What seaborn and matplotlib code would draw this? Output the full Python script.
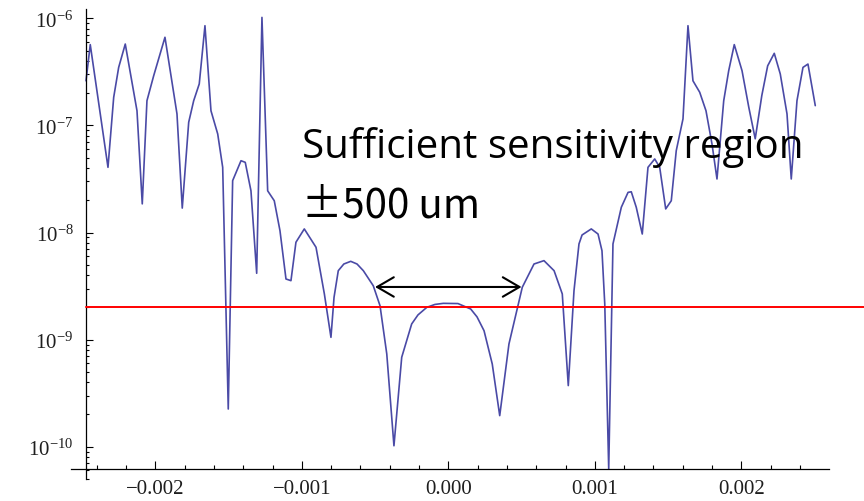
import numpy as np
import pandas as pd
import matplotlib
matplotlib.use("Agg")
import matplotlib.pyplot as plt
import seaborn as sns
from matplotlib.ticker import FixedLocator, LogLocator, NullFormatter, MultipleLocator, LogFormatterSciNotation

# ---------------- data ----------------
position_mm = [-2.473, -2.444, -2.323, -2.284, -2.250, -2.205, -2.125, -2.089, -2.057, -2.011,
               -1.934, -1.852, -1.816, -1.772, -1.738, -1.700, -1.661, -1.620, -1.574, -1.540,
               -1.502, -1.472, -1.415, -1.386, -1.347, -1.308, -1.272, -1.233, -1.188, -1.149,
               -1.108, -1.074, -1.040, -0.983, -0.903, -0.846, -0.801, -0.780, -0.751, -0.713,
               -0.666, -0.623, -0.580, -0.512, -0.466, -0.420, -0.371, -0.318, -0.250, -0.207,
               -0.147, -0.091, -0.034, 0.066, 0.153, 0.196, 0.244, 0.300, 0.351, 0.414,
               0.505, 0.585, 0.653, 0.722, 0.778, 0.819, 0.858, 0.892, 0.913, 0.976,
               1.022, 1.049, 1.068, 1.095, 1.124, 1.181, 1.227, 1.249, 1.283, 1.324,
               1.363, 1.409, 1.443, 1.484, 1.522, 1.556, 1.602, 1.636, 1.670, 1.716,
               1.759, 1.800, 1.834, 1.880, 1.914, 1.952, 2.005, 2.051, 2.095, 2.140,
               2.180, 2.225, 2.266, 2.312, 2.341, 2.380, 2.421, 2.455, 2.505]

sensitivity = [2.61e-7, 5.68e-7, 4.06e-8, 1.83e-7, 3.48e-7, 5.75e-7, 1.37e-7, 1.85e-8, 1.70e-7, 2.91e-7,
               6.65e-7, 1.28e-7, 1.69e-8, 1.07e-7, 1.70e-7, 2.44e-7, 8.53e-7, 1.37e-7, 8.32e-8, 4.06e-8,
               2.25e-10, 3.05e-8, 4.68e-8, 4.52e-8, 2.45e-8, 4.16e-9, 1.02e-6, 2.45e-8, 1.98e-8, 1.04e-8,
               3.68e-9, 3.55e-9, 8.11e-9, 1.08e-8, 7.28e-9, 2.67e-9, 1.05e-9, 2.48e-9, 4.40e-9, 5.08e-9,
               5.38e-9, 5.08e-9, 4.40e-9, 3.18e-9, 2.07e-9, 7.35e-10, 1.02e-10, 6.84e-10, 1.40e-9, 1.70e-9,
               2.00e-9, 2.13e-9, 2.18e-9, 2.17e-9, 1.93e-9, 1.63e-9, 1.21e-9, 5.92e-10, 1.95e-10, 9.10e-10,
               3.08e-9, 5.08e-9, 5.46e-9, 4.40e-9, 2.67e-9, 3.72e-10, 2.86e-9, 7.82e-9, 9.48e-9, 1.08e-8,
               9.68e-9, 6.76e-9, 2.15e-9, 6.2e-11, 7.82e-9, 1.72e-8, 2.37e-8, 2.40e-8, 1.72e-8, 9.68e-9,
               4.06e-8, 4.86e-8, 4.06e-8, 1.66e-8, 1.98e-8, 5.81e-8, 1.15e-7, 8.53e-7, 2.61e-7, 2.04e-7,
               1.37e-7, 6.70e-8, 3.16e-8, 1.70e-7, 3.24e-7, 5.68e-7, 3.24e-7, 1.48e-7, 7.5e-8, 1.9e-7,
               3.6e-7, 4.71e-7, 3.02e-7, 1.28e-7, 3.16e-8, 1.70e-7, 3.48e-7, 3.74e-7, 1.53e-7]

threshold = 2.0e-9
region_half_width = 0.0005
arrow_level = 3.1e-9

x_tick_values = [-0.002, -0.001, 0.0, 0.001, 0.002]
x_tick_labels = ["\u22120.002", "\u22120.001", "0.000", "0.001", "0.002"]
y_tick_values = [1e-10, 1e-9, 1e-8, 1e-7, 1e-6]
annotation_lines = ["Sufficient sensitivity region", "\u00b1500 um"]

# ---------------- style ----------------
sns.set_theme(style="white")
plt.rcParams["font.family"] = ["Liberation Serif", "DejaVu Serif"]
plt.rcParams["mathtext.fontset"] = "custom"
plt.rcParams["mathtext.rm"] = "Liberation Serif"
plt.rcParams["mathtext.it"] = "Liberation Serif:italic"
plt.rcParams["mathtext.bf"] = "Liberation Serif:bold"

W, H = 864, 502
fig = plt.figure(figsize=(W / 100, H / 100), dpi=100)
fig.patch.set_facecolor("white")

# pixel layout of the reference frame
px_left, px_right, px_top, px_bottom = 71, 829, 10, 480
x0_px, px_per_unit = 448.3, 146500.0
dec0_px, px_per_dec = 19.3, 107.1

ax = fig.add_axes([px_left / W, 1 - px_bottom / H,
                   (px_right - px_left) / W, (px_bottom - px_top) / H])
ax.set_facecolor("white")

df = pd.DataFrame({"x": np.array(position_mm) * 1e-3, "y": sensitivity})
sns.lineplot(data=df, x="x", y="y", ax=ax, color="#4a4aa6", lw=1.2,
             sort=False, estimator=None)

ax.set_yscale("log")
ax.set_xlim((px_left - x0_px) / px_per_unit, (px_right - x0_px) / px_per_unit)
ax.set_ylim(10 ** (-6 - (px_bottom - dec0_px) / px_per_dec),
            10 ** (-6 - (px_top - dec0_px) / px_per_dec))

# axes crossing like Mathematica
yaxis_x = (86 - x0_px) / px_per_unit
xaxis_y = 10 ** (-6 - (470 - dec0_px) / px_per_dec)
ax.spines["left"].set_position(("data", yaxis_x))
ax.spines["bottom"].set_position(("data", xaxis_y))
for s in ["top", "right"]:
    ax.spines[s].set_visible(False)
for s in ["left", "bottom"]:
    ax.spines[s].set_color("black")
    ax.spines[s].set_linewidth(0.9)

ax.xaxis.set_major_locator(FixedLocator(x_tick_values))
ax.set_xticklabels(x_tick_labels)
ax.xaxis.set_minor_locator(MultipleLocator(0.0002))
ax.yaxis.set_major_locator(FixedLocator(y_tick_values))
ax.yaxis.set_major_formatter(LogFormatterSciNotation())
ax.yaxis.set_minor_locator(LogLocator(base=10, subs=np.arange(2, 10)))
ax.yaxis.set_minor_formatter(NullFormatter())

ax.tick_params(which="both", direction="in", bottom=True, left=True, top=False, right=False,
               color="black", width=0.8, labelcolor="#1e1e1e")
ax.tick_params(axis="x", which="major", length=5.8, pad=7, labelsize=15)
ax.tick_params(axis="x", which="minor", length=2.9)
ax.tick_params(axis="y", which="major", length=4.8, pad=9, labelsize=15)
ax.tick_params(axis="y", which="minor", length=2.4)
ax.set_xlabel("")
ax.set_ylabel("")
ax.grid(False)

# threshold line (runs out past the frame to the picture edge)
ax.axhline(threshold, xmin=(86 - px_left) / (px_right - px_left),
           xmax=(W - px_left) / (px_right - px_left), color="#ff0000", lw=1.4,
           clip_on=False, zorder=3)

# double-headed arrow for the region
ax.annotate("", xy=(-region_half_width, arrow_level), xytext=(region_half_width, arrow_level),
            arrowprops=dict(arrowstyle="<->, head_length=0.6, head_width=0.35",
                            color="black", lw=1.5, shrinkA=0, shrinkB=0,
                            mutation_scale=20), zorder=4)

fig.text(302 / W, 1 - 158 / H, annotation_lines[0], family=["Open Sans", "DejaVu Sans"],
         fontsize=29, color="black", ha="left", va="baseline")
fig.text(302 / W, 1 - 218 / H, annotation_lines[1],
         family=["Noto Sans CJK JP", "Open Sans", "DejaVu Sans"],
         fontsize=29, color="black", ha="left", va="baseline")

fig.savefig("out.png", dpi=100, facecolor="white")
